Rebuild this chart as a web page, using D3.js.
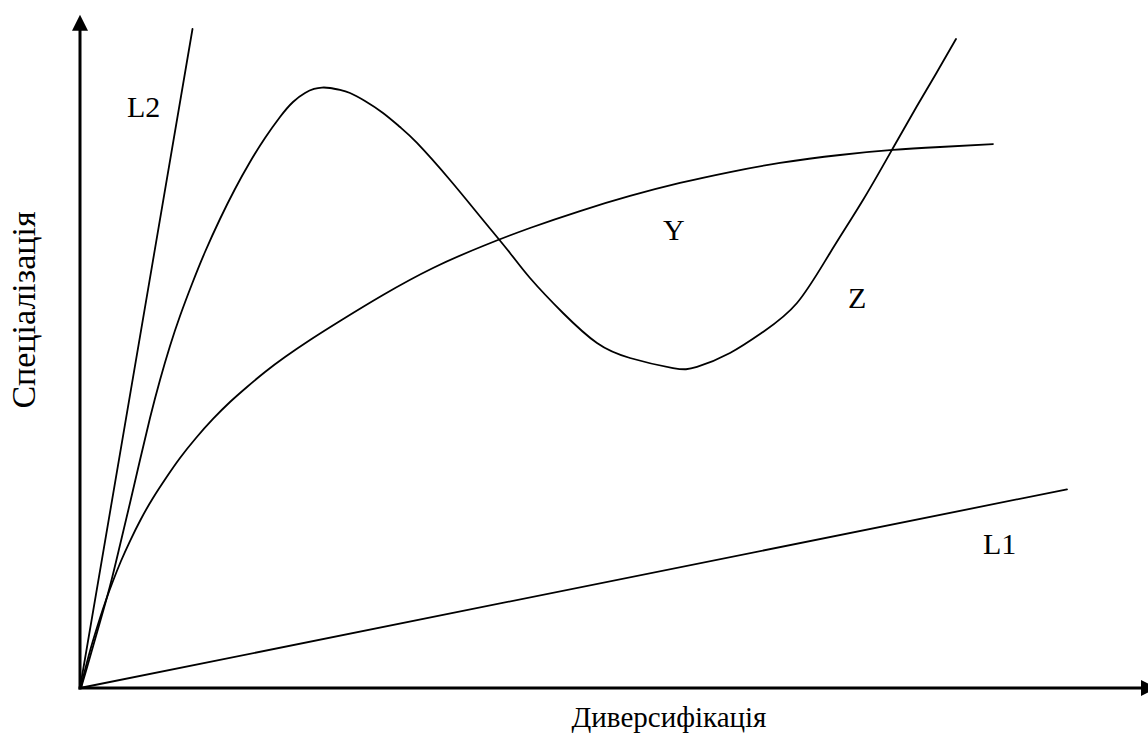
<!DOCTYPE html>
<html>
<head>
<meta charset="utf-8">
<script src="https://cdn.jsdelivr.net/npm/d3@7"></script>
<style>
  html, body { margin: 0; padding: 0; background: #fff; }
  svg { display: block; }
  text { font-family: "Liberation Serif", "Times New Roman", serif; fill: #000; }
</style>
</head>
<body>
<svg id="chart" width="1148" height="735"></svg>
<script>
// ---- data (abstract units 0..100) ----
const xTitle = "Диверсифікація";
const yTitle = "Спеціалізація";

const lineL2 = [[0, 0], [11.25, 99.85]];
const lineL1 = [[0, 0], [98.7, 30.1]];

const curveY = [
  [0.1, 0], [0.3, 1.52], [0.6, 3.33], [1.0, 5.61], [1.5, 8.18], [2.0, 10.61],
  [2.6, 13.33], [3.3, 16.21], [4.1, 19.24], [5.0, 22.27], [6.1, 25.61],
  [7.3, 28.79], [8.6, 31.82], [10.0, 34.85], [11.6, 37.88], [13.3, 40.76],
  [15.0, 43.33], [16.7, 45.61], [18.5, 47.88], [20.5, 50.15], [23.0, 52.73],
  [26.0, 55.61], [30.3, 59.55], [35.3, 63.64], [40.3, 66.97], [45.0, 69.70],
  [50.0, 72.27], [55.0, 74.55], [60.0, 76.52], [65.0, 78.18], [70.0, 79.55],
  [76.0, 80.76], [81.3, 81.52], [86.0, 81.97], [91.3, 82.42]
];

const curveZ = [
  [0.1, 0], [0.6, 2.58], [1.2, 5.76], [2.0, 10.0], [3.0, 15.45], [4.0, 21.67],
  [5.0, 28.03], [6.0, 34.55], [7.0, 40.91], [8.0, 46.67], [9.0, 51.82],
  [10.0, 56.36], [11.2, 61.21], [12.5, 66.06], [14.0, 71.06], [15.5, 75.61],
  [17.0, 79.70], [18.5, 83.33], [20.0, 86.52], [21.3, 88.79], [22.5, 90.15],
  [23.4, 90.76], [24.2, 90.98], [25.0, 90.91], [26.0, 90.61], [27.0, 90.15],
  [28.5, 88.94], [30.3, 87.12], [32.0, 85.0], [33.7, 82.58], [37.0, 76.97],
  [40.3, 70.91], [43.0, 65.91], [45.0, 62.12], [48.3, 56.82], [51.7, 52.27],
  [55.0, 50.0], [59.3, 48.48], [61.7, 48.64], [65.0, 50.76], [68.3, 53.94],
  [71.7, 58.33], [75.0, 65.91], [78.3, 73.94], [81.3, 81.82], [83.7, 88.18],
  [85.7, 93.33], [87.6, 98.33]
];

const labelNames = ["L2", "Y", "Z", "L1"];
const labelX = [4.7, 58.3, 76.8, 90.3];
const labelY = [86.5, 67.9, 57.6, 20.3];

const axisEnd = { x: 107.7, y: 102 };

// ---- drawing ----
const svg = d3.select("#chart");
const x = d3.scaleLinear().domain([0, 100]).range([80, 1080]);
const y = d3.scaleLinear().domain([0, 100]).range([688, 28]);

const line = d3.line().x(d => x(d[0])).y(d => y(d[1]));
const smooth = d3.line().x(d => x(d[0])).y(d => y(d[1])).curve(d3.curveNatural);

// axes
svg.append("line")
  .attr("x1", x(0)).attr("y1", y(0) + 1.5)
  .attr("x2", x(0)).attr("y2", y(axisEnd.y) + 14)
  .attr("stroke", "#000").attr("stroke-width", 3);
svg.append("path")
  .attr("d", d3.line()([[x(0), y(axisEnd.y)], [x(0) - 8, y(axisEnd.y) + 16], [x(0) + 8, y(axisEnd.y) + 16]]) + "Z")
  .attr("fill", "#000");

svg.append("line")
  .attr("x1", x(0) - 1.5).attr("y1", y(0))
  .attr("x2", x(axisEnd.x) - 14).attr("y2", y(0))
  .attr("stroke", "#000").attr("stroke-width", 3);
svg.append("path")
  .attr("d", d3.line()([[x(axisEnd.x), y(0)], [x(axisEnd.x) - 16, y(0) - 8], [x(axisEnd.x) - 16, y(0) + 8]]) + "Z")
  .attr("fill", "#000");

// series
const g = svg.append("g").attr("fill", "none").attr("stroke", "#000").attr("stroke-width", 1.8)
  .attr("stroke-linejoin", "round").attr("stroke-linecap", "round");
g.append("path").attr("d", line(lineL2));
g.append("path").attr("d", line(lineL1));
g.append("path").attr("d", smooth(curveY));
g.append("path").attr("d", smooth(curveZ));

// labels
svg.selectAll("text.lbl").data(labelNames).join("text")
  .attr("class", "lbl")
  .attr("x", (d, i) => x(labelX[i]))
  .attr("y", (d, i) => y(labelY[i]))
  .attr("font-size", 30)
  .text(d => d);

// axis titles
svg.append("text")
  .attr("x", 669).attr("y", 727)
  .attr("text-anchor", "middle")
  .attr("font-size", 29)
  .text(xTitle);
svg.append("text")
  .attr("transform", "translate(35,310) rotate(-90)")
  .attr("text-anchor", "middle")
  .attr("font-size", 34)
  .text(yTitle);
</script>
</body>
</html>
